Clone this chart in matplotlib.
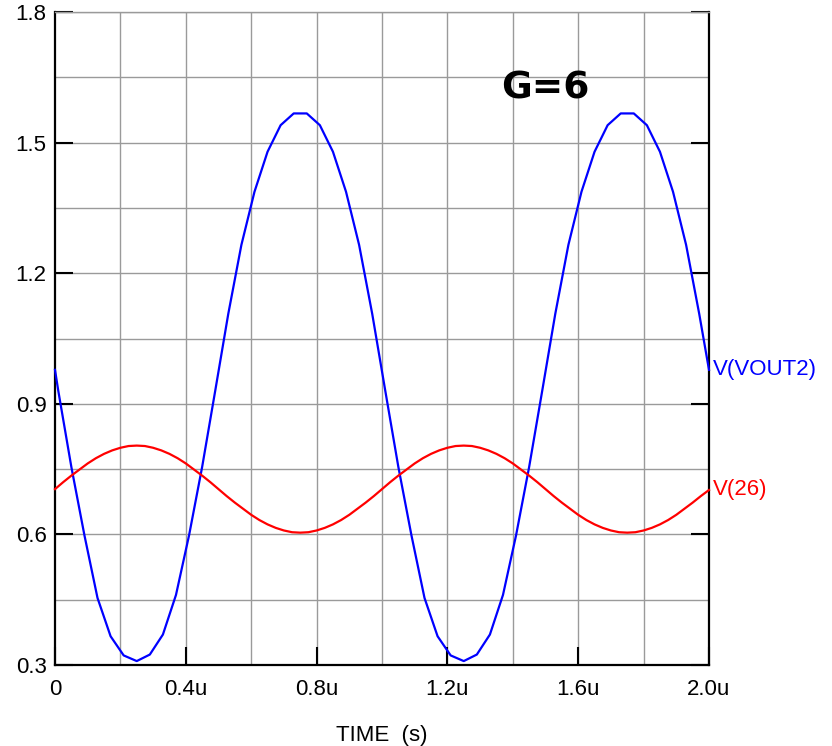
import numpy as np
import matplotlib
matplotlib.use("Agg")
import matplotlib.pyplot as plt

plt.rcParams['font.family'] = ['Liberation Sans Narrow', 'Liberation Sans', 'DejaVu Sans']

# Transient result, time in microseconds
# V(VOUT2): simulator output points (t = 0, 0.01, 0.05, ... 1.97, 2.0)
t_out = np.concatenate(([0.0], np.round(np.arange(0.01, 2.0, 0.04), 2), [2.0]))
v_out = [0.978,
         0.930, 0.755, 0.598, 0.454, 0.366, 0.322, 0.309, 0.324, 0.370, 0.461,
         0.598, 0.755, 0.930, 1.107, 1.265, 1.387, 1.479, 1.540, 1.567, 1.567,
         1.540, 1.479, 1.387, 1.265, 1.107,
         0.930, 0.755, 0.598, 0.454, 0.366, 0.322, 0.309, 0.324, 0.370, 0.461,
         0.598, 0.755, 0.930, 1.107, 1.265, 1.387, 1.479, 1.540, 1.567, 1.567,
         1.540, 1.479, 1.387, 1.265, 1.107,
         0.978]

# V(26): input node, every 0.025u
t_in = np.linspace(0.0, 2.0, 81)
v_in = [0.704, 0.720, 0.735, 0.749, 0.763, 0.775, 0.785, 0.793, 0.799, 0.803,
        0.804, 0.803, 0.799, 0.793, 0.785, 0.775, 0.763, 0.749, 0.735, 0.720,
        0.704, 0.688, 0.673, 0.659, 0.645, 0.633, 0.623, 0.615, 0.609, 0.605,
        0.604, 0.605, 0.609, 0.615, 0.623, 0.633, 0.645, 0.659, 0.673, 0.688,
        0.704, 0.720, 0.735, 0.749, 0.763, 0.775, 0.785, 0.793, 0.799, 0.803,
        0.804, 0.803, 0.799, 0.793, 0.785, 0.775, 0.763, 0.749, 0.735, 0.720,
        0.704, 0.688, 0.673, 0.659, 0.645, 0.633, 0.623, 0.615, 0.609, 0.605,
        0.604, 0.605, 0.609, 0.615, 0.623, 0.633, 0.645, 0.659, 0.673, 0.688,
        0.702]

x_ticks = [0.0, 0.4, 0.8, 1.2, 1.6, 2.0]
x_labels = ["0", "0.4u", "0.8u", "1.2u", "1.6u", "2.0u"]
y_ticks = [0.3, 0.6, 0.9, 1.2, 1.5, 1.8]
y_labels = ["0.3", "0.6", "0.9", "1.2", "1.5", "1.8"]

fig = plt.figure(figsize=(8.32, 7.46), dpi=100)
ax = fig.add_axes([55/832, 1 - 665/746, 654/832, 653/746])

ax.set_xlim(0, 2.0)
ax.set_ylim(0.3, 1.8)

# grid every 0.2u and 0.15 V
for gx in np.arange(0.2, 2.0, 0.2):
    ax.axvline(gx, color='#9a9a9a', lw=1.0, zorder=1)
for gy in np.arange(0.45, 1.81, 0.15):
    ax.axhline(gy, color='#9a9a9a', lw=1.0, zorder=1)

ax.plot(t_out, v_out, color='#0000ff', lw=1.6, zorder=3, clip_on=False)
ax.plot(t_in, v_in, color='#ff0000', lw=1.6, zorder=3, clip_on=False)

ax.set_xticks(x_ticks)
ax.set_xticklabels(x_labels)
ax.set_yticks(y_ticks)
ax.set_yticklabels(y_labels)
ax.tick_params(axis='both', direction='in', length=13, width=1.5,
               labelsize=16, colors='black')
ax.tick_params(axis='y', right=True, pad=6)
ax.tick_params(axis='x', top=False, pad=10)

for s in ['left', 'bottom', 'right']:
    ax.spines[s].set_color('black')
    ax.spines[s].set_linewidth(1.6)
ax.spines['top'].set_color('#9a9a9a')
ax.spines['top'].set_linewidth(1.0)

ax.set_xlabel("TIME  (s)", fontsize=16, labelpad=18)

ax.text(2.012, v_out[-1], "V(VOUT2)", color='#0000ff', fontsize=16,
        va='center', ha='left', clip_on=False)
ax.text(2.012, v_in[-1], "V(26)", color='#ff0000', fontsize=16,
        va='center', ha='left', clip_on=False)

ax.text(1.50, 1.625, "G=6", fontsize=27, fontweight='bold',
        family='DejaVu Sans', ha='center', va='center')

fig.savefig("out.png", dpi=100)
